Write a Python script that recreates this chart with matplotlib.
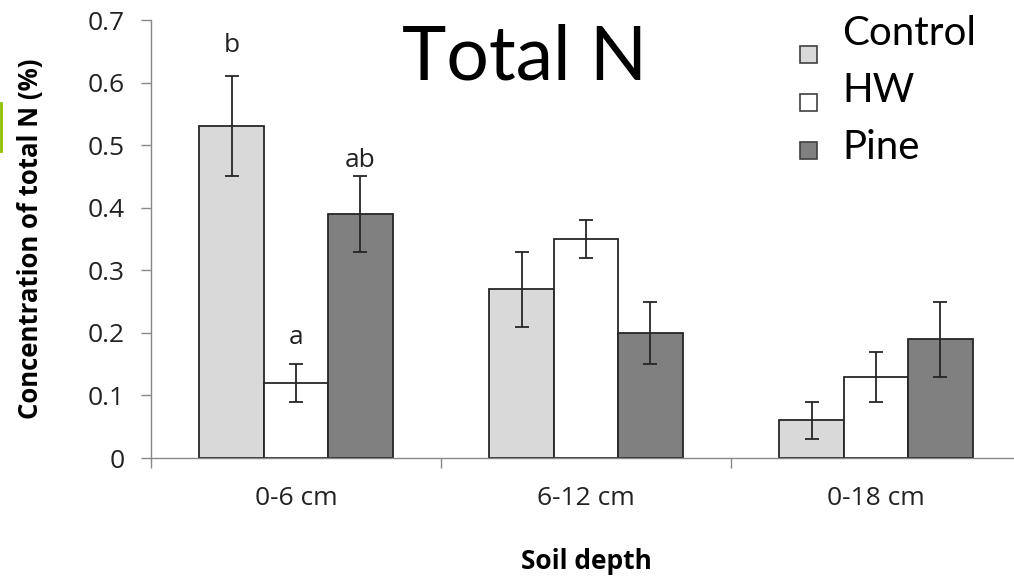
import numpy as np
import matplotlib
matplotlib.use('Agg')
import matplotlib.pyplot as plt
from matplotlib.patches import Rectangle
from matplotlib.lines import Line2D

# data
depths = ['0-6 cm', '6-12 cm', '0-18 cm']
series = ['Control', 'HW', 'Pine']
control = [0.53, 0.27, 0.06]
control_err = [0.08, 0.06, 0.03]
hw = [0.12, 0.35, 0.13]
hw_err = [0.03, 0.03, 0.04]
pine = [0.39, 0.20, 0.19]
pine_err = [0.06, 0.05, 0.06]
colors = ['#d9d9d9', '#ffffff', '#808080']

# significance letters for the 0-6 cm group: (series index, letter, baseline y)
letters = [(0, 'b', 0.649), (1, 'a', 0.182), (2, 'ab', 0.465)]

plt.rcParams['font.family'] = ['Open Sans', 'DejaVu Sans']

fig = plt.figure(figsize=(10.14, 5.8), dpi=100)
ax = fig.add_axes([151/1014, 122/580, 870/1014, 438/580])

x = np.arange(len(depths))
w = 0.222
vals = [control, hw, pine]
errs = [control_err, hw_err, pine_err]
for i in range(3):
    ax.bar(x + (i - 1) * w, vals[i], w, yerr=errs[i], color=colors[i],
           edgecolor='#262626', linewidth=1.3,
           error_kw=dict(ecolor='#262626', elinewidth=1.3, capsize=5, capthick=1.3))

for i, txt, yy in letters:
    ax.text(x[0] + (i - 1) * w, yy, txt, ha='center', va='baseline',
            fontsize=19, color='#222222')

ax.set_xlim(-0.5, 2.5)
ax.set_ylim(0, 0.7)
ax.set_yticks(np.arange(0, 0.71, 0.1))
ax.set_yticklabels(['0', '0.1', '0.2', '0.3', '0.4', '0.5', '0.6', '0.7'])
ax.set_xticks([-0.5, 0.5, 1.5, 2.5])
ax.set_xticklabels([])
ax.set_xticks(x, minor=True)
ax.set_xticklabels(depths, minor=True)
ax.tick_params(axis='x', which='minor', length=0, pad=20, labelsize=19, labelcolor='#222222')
ax.tick_params(axis='x', which='major', length=7, color='#888888', width=1)
ax.tick_params(axis='y', length=7, color='#888888', width=1, pad=12, labelsize=19,
               labelcolor='#222222')

for s in ['top', 'right']:
    ax.spines[s].set_visible(False)
for s in ['left', 'bottom']:
    ax.spines[s].set_color('#888888')
    ax.spines[s].set_linewidth(1)

ax.set_ylabel('Concentration of total N (%)', fontsize=18.5, fontweight='bold')
ax.yaxis.set_label_coords(-0.123, 0.5)
ax.set_xlabel('Soil depth', fontsize=19, fontweight='bold', labelpad=27)
fig.text(525/1014, 1 - 79/580, 'Total N', ha='center', va='baseline', fontsize=54,
         family=['Lato', 'DejaVu Sans'])

# legend drawn by hand to match the layout
for k, name in enumerate(series):
    ty = 1 - (45 + 57 * k) / 580
    fig.text(842/1014, ty, name, ha='left', va='baseline', fontsize=29,
             family=['Lato', 'DejaVu Sans'])
    my = 1 - (63 + 48 * k) / 580
    fig.patches.append(Rectangle((800/1014, my), 17/1014, 17/580, transform=fig.transFigure,
                                 facecolor=colors[k], edgecolor='#404040', linewidth=1.2))

# small green mark at left edge
fig.lines.append(Line2D([1/1014, 1/1014], [1 - 103/580, 1 - 151/580], color='#8cc000',
                        linewidth=2, transform=fig.transFigure))

fig.savefig('out.png', dpi=100)
